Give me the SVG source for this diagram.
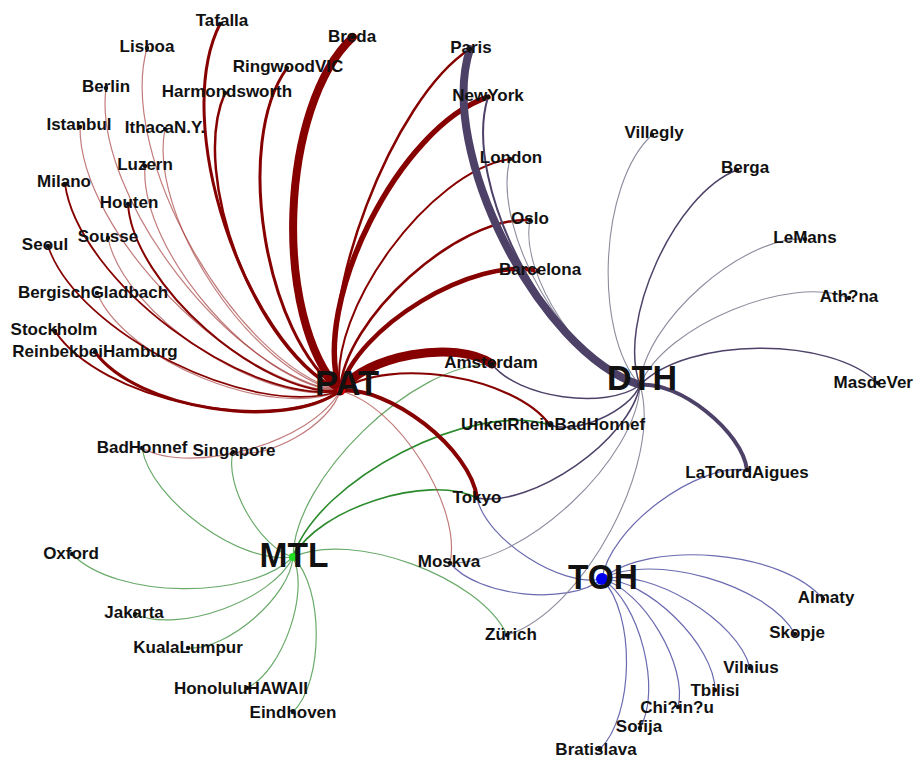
<svg xmlns="http://www.w3.org/2000/svg" width="915" height="759" viewBox="0 0 915 759">
<style>
  .e{fill:none;stroke-linecap:round}
  .pat{stroke:#860000}
  .pat-t{stroke:#a53c3c;stroke-opacity:.68;stroke-width:1.2}
  .dth{stroke:#4d4168}
  .dth-t{stroke:#8c8c9e;stroke-width:1.1}
  .mtl{stroke:#6aaa6a;stroke-width:1.2}
  .mtl-d{stroke:#2b8a2b;stroke-width:1.6}
  .toh{stroke:#6a6ab0;stroke-width:1.2}
  .lbl{font-family:"Liberation Sans",Arial,sans-serif;font-weight:bold;font-size:17px;fill:#111;text-anchor:middle}
  .hub{font-size:35px}
  .dot{fill:#111}
</style>
<rect width="915" height="759" fill="#fff"/>

<g id="connectors">
  <!-- MTL edges -->
  <g id="edges-mtl" class="e">
    <path class="mtl" d="M293,557 C241,565.4 150.4,500 142,448"/>
    <path class="mtl" d="M293,557 C260,548 224,485 233,452"/>
    <path class="mtl" d="M293,557 C248.2,600.6 115.6,598.8 72,554"/>
    <path class="mtl" d="M293,557 C272.8,600 178,634.2 135,614"/>
    <path class="mtl" d="M293,557 C290.2,596.2 227.2,650.8 188,648"/>
    <path class="mtl" d="M293,557 C310,592.4 282.4,671 247,688"/>
    <path class="mtl" d="M293,557 C324,588 324,681 293,712"/>
    <path class="mtl" d="M293,557 C294.2,478.6 413.6,362.8 492,364"/>
    <path class="mtl" d="M293,557 C351.4,529.8 479.8,576.6 507,635"/>
    <path class="mtl-d" d="M293,557 C318,479.2 472.2,400 550,425"/>
    <path class="mtl-d" d="M293,557 C318,508.4 428.4,473 477,498"/>
  </g>
  <!-- TOH edges -->
  <g id="edges-toh" class="e toh">
    <path d="M602,579 C650.2,538.8 782.8,550.8 823,599"/>
    <path d="M602,579 C651.6,551.4 767.4,584.4 795,634"/>
    <path d="M602,579 C649.4,567.2 738.2,620.6 750,668"/>
    <path d="M602,579 C646.8,578.6 714.6,645.2 715,690"/>
    <path d="M602,579 C642.8,589.4 688.4,666.2 678,707"/>
    <path d="M602,579 C639.4,601.2 662.2,690.6 640,728"/>
    <path d="M602,579 C635.6,613.4 634.4,715.4 600,749"/>
    <path d="M602,579 C560.8,587.8 485.8,539.2 477,498"/>
    <path d="M602,579 C568.4,606.2 477.2,596.6 450,563"/>
    <path d="M602,579 C609.2,528.2 696.2,462.8 747,470"/>
  </g>
  <!-- PAT edges -->
  <g id="edges-pat" class="e">
    <path class="pat-t" d="M340,391 C232.8,361 117,155.2 147,48"/>
    <path class="pat-t" d="M340,391 C232.6,377.2 92.2,195.4 106,88"/>
    <path class="pat-t" d="M340,391 C235.2,390.2 79.2,231.8 80,127"/>
    <path class="pat-t" d="M340,391 C252.6,373.6 147.6,216.4 165,129"/>
    <path class="pat-t" d="M340,391 C256,385 139,250 145,166"/>
    <path class="pat-t" d="M340,391 C263,406.8 123.8,315 108,238"/>
    <path class="pat-t" d="M340,391 C271.8,420 126,361.2 97,293"/>
    <path class="pat-t" d="M340,391 C330.8,424.6 266.6,461.2 233,452"/>
    <path class="pat-t" d="M340,391 C311.8,442 193,476.2 142,448"/>
    <path class="pat-t" d="M340,391 C396.4,403.4 462.4,506.6 450,563"/>
    <path class="pat" stroke-width="1.8" d="M340,391 C243.6,404.6 78.6,280.4 65,184"/>
    <path class="pat" stroke-width="2" d="M340,391 C260.2,396 133,283.8 128,204"/>
    <path class="pat" stroke-width="1.7" d="M340,391 C252.6,420.4 77.4,333.4 48,246"/>
    <path class="pat" stroke-width="2" d="M340,391 C271,436 100,400 55,331"/>
    <path class="pat" stroke-width="3" d="M340,391 C283.2,432.2 136.2,408.8 95,352"/>
    <path class="pat" stroke-width="3" d="M340,391 C242.6,341.6 170.6,121.4 220,24"/>
    <path class="pat" stroke-width="3" d="M340,391 C264.8,337 233,143.2 287,68"/>
    <path class="pat" stroke-width="2.5" d="M340,391 C257.4,354.4 188.4,175.6 225,93"/>
    <path class="pat" stroke-width="8" d="M340,391 C271.8,317.6 279.6,105.2 353,37"/>
    <path class="pat" stroke-width="2.5" d="M340,391 C314.7,303.1 392.7,97.9 470,49"/>
    <path class="pat" stroke-width="5.5" d="M340,391 C310.8,302.6 399.6,126.2 488,97"/>
    <path class="pat" stroke-width="2" d="M340,391 C327.6,310.6 429.6,171.4 510,159"/>
    <path class="pat" stroke-width="2.5" d="M340,391 C343.8,318.8 457.8,216.2 530,220"/>
    <path class="pat" stroke-width="4.5" d="M340,391 C355.6,327.4 474.4,255.4 538,271"/>
    <path class="pat" stroke-width="9" d="M340,391 C365,355.2 456.2,339 492,364"/>
    <path class="pat" stroke-width="2.2" d="M340,391 C388.8,355.8 514.8,376.2 550,425"/>
    <path class="pat" stroke-width="4" d="M340,391 C388.8,385 471,449.2 477,498"/>
  </g>
  <!-- DTH edges -->
  <g id="edges-dth" class="e">
    <path class="dth-t" d="M640,385 C568.8,365.8 490.8,230.2 510,159"/>
    <path class="dth-t" d="M640,385 C585,374 519,275 530,220"/>
    <path class="dth-t" d="M640,385 C592.4,332.6 599.6,182.6 652,135"/>
    <path class="dth-t" d="M640,385 C643.8,322.8 742.8,235.2 805,239"/>
    <path class="dth-t" d="M640,385 C664.4,325.8 789.8,273.6 849,298"/>
    <path class="dth-t" d="M640,385 C637.6,458.6 523.6,565.4 450,563"/>
    <path class="dth-t" d="M640,385 C663.4,461.6 583.6,611.6 507,635"/>
    <path class="dth" stroke-width="1.5" d="M640,385 C616.4,322.6 674.6,193.6 737,170"/>
    <path class="dth" stroke-width="1.5" d="M640,385 C687.2,337 830,335.8 878,383"/>
    <path class="dth" stroke-width="1.5" d="M640,385 C606.2,410.4 517.4,397.8 492,364"/>
    <path class="dth" stroke-width="1.5" d="M640,385 C630,411 576,435 550,425"/>
    <path class="dth" stroke-width="1.5" d="M640,385 C630,440.2 532.2,508 477,498"/>
    <path class="dth" stroke-width="2" d="M640,385 C552,357.8 460.8,185 488,97"/>
    <path class="dth" stroke-width="4" d="M640,385 C678.4,380.6 742.6,431.6 747,470"/>
    <path class="dth" stroke-width="8" d="M640,385 C538.8,351.8 436.8,150.2 470,49"/>
  </g>
</g>

<!-- hubs -->
<g id="node-PAT"><circle cx="341" cy="391" r="4" fill="#e00000"/><text class="lbl hub" x="347" y="395" textLength="64" lengthAdjust="spacingAndGlyphs">PAT</text></g>
<g id="node-DTH"><circle cx="640" cy="385" r="3" fill="#3a3050"/><text class="lbl hub" x="642" y="390" textLength="70" lengthAdjust="spacingAndGlyphs">DTH</text></g>
<g id="node-MTL"><circle cx="293" cy="557" r="4" fill="#22dd22"/><text class="lbl hub" x="294" y="567" textLength="69" lengthAdjust="spacingAndGlyphs">MTL</text></g>
<g id="node-TOH"><circle cx="602" cy="579" r="6" fill="#0000ee"/><text class="lbl hub" x="603" y="589" textLength="70" lengthAdjust="spacingAndGlyphs">TOH</text></g>

<!-- leaf nodes -->
<g id="node-Tafalla"><circle class="dot" cx="220" cy="24" r="2.2"/><text class="lbl" x="222" y="26">Tafalla</text></g>
<g id="node-Lisboa"><circle class="dot" cx="147" cy="48" r="2.2"/><text class="lbl" x="147" y="52">Lisboa</text></g>
<g id="node-RingwoodVIC"><circle class="dot" cx="287" cy="68" r="2.2"/><text class="lbl" x="288" y="72">RingwoodVIC</text></g>
<g id="node-Breda"><circle class="dot" cx="353" cy="37" r="2.2"/><text class="lbl" x="352" y="42">Breda</text></g>
<g id="node-Harmondsworth"><circle class="dot" cx="225" cy="93" r="2.2"/><text class="lbl" x="227" y="97">Harmondsworth</text></g>
<g id="node-Berlin"><circle class="dot" cx="106" cy="88" r="2.2"/><text class="lbl" x="106" y="92">Berlin</text></g>
<g id="node-Istanbul"><circle class="dot" cx="80" cy="127" r="2.2"/><text class="lbl" x="79" y="130">Istanbul</text></g>
<g id="node-Ithaca"><circle class="dot" cx="165" cy="129" r="2.2"/><text class="lbl" x="165" y="133">IthacaN.Y.</text></g>
<g id="node-Luzern"><circle class="dot" cx="145" cy="166" r="2.2"/><text class="lbl" x="145" y="170">Luzern</text></g>
<g id="node-Milano"><circle class="dot" cx="65" cy="184" r="2.2"/><text class="lbl" x="64" y="187">Milano</text></g>
<g id="node-Houten"><circle class="dot" cx="128" cy="204" r="2.2"/><text class="lbl" x="129" y="208">Houten</text></g>
<g id="node-Seoul"><circle class="dot" cx="48" cy="246" r="2.2"/><text class="lbl" x="45" y="250">Seoul</text></g>
<g id="node-Sousse"><circle class="dot" cx="108" cy="238" r="2.2"/><text class="lbl" x="108" y="242">Sousse</text></g>
<g id="node-BergischGladbach"><circle class="dot" cx="97" cy="293" r="2.2"/><text class="lbl" x="93" y="298">BergischGladbach</text></g>
<g id="node-Stockholm"><circle class="dot" cx="55" cy="331" r="2.2"/><text class="lbl" x="54" y="335">Stockholm</text></g>
<g id="node-Reinbek"><circle class="dot" cx="95" cy="352" r="2.2"/><text class="lbl" x="95" y="357">ReinbekbeiHamburg</text></g>
<g id="node-Paris"><circle class="dot" cx="470" cy="49" r="2.2"/><text class="lbl" x="471" y="53">Paris</text></g>
<g id="node-NewYork"><circle class="dot" cx="488" cy="97" r="2.2"/><text class="lbl" x="488" y="101">NewYork</text></g>
<g id="node-London"><circle class="dot" cx="510" cy="159" r="2.2"/><text class="lbl" x="511" y="163">London</text></g>
<g id="node-Oslo"><circle class="dot" cx="530" cy="220" r="2.2"/><text class="lbl" x="530" y="224">Oslo</text></g>
<g id="node-Barcelona"><circle class="dot" cx="538" cy="271" r="2.2"/><text class="lbl" x="540" y="275">Barcelona</text></g>
<g id="node-Amsterdam"><circle class="dot" cx="492" cy="364" r="2.2"/><text class="lbl" x="491" y="368">Amsterdam</text></g>
<g id="node-UnkelRheinBadHonnef"><circle class="dot" cx="550" cy="425" r="2.2"/><text class="lbl" x="553" y="430">UnkelRheinBadHonnef</text></g>
<g id="node-Tokyo"><circle class="dot" cx="477" cy="498" r="2.2"/><text class="lbl" x="477" y="503">Tokyo</text></g>
<g id="node-Singapore"><circle class="dot" cx="233" cy="452" r="2.2"/><text class="lbl" x="234" y="456">Singapore</text></g>
<g id="node-BadHonnef"><circle class="dot" cx="142" cy="448" r="2.2"/><text class="lbl" x="142" y="453">BadHonnef</text></g>
<g id="node-Moskva"><circle class="dot" cx="450" cy="563" r="2.2"/><text class="lbl" x="449" y="567">Moskva</text></g>
<g id="node-Villegly"><circle class="dot" cx="652" cy="135" r="2.2"/><text class="lbl" x="654" y="138">Villegly</text></g>
<g id="node-Berga"><circle class="dot" cx="737" cy="170" r="2.2"/><text class="lbl" x="745" y="173">Berga</text></g>
<g id="node-LeMans"><circle class="dot" cx="805" cy="239" r="2.2"/><text class="lbl" x="805" y="243">LeMans</text></g>
<g id="node-Athena"><circle class="dot" cx="849" cy="298" r="2.2"/><text class="lbl" x="849" y="302">Ath?na</text></g>
<g id="node-MasdeVer"><circle class="dot" cx="878" cy="383" r="2.2"/><text class="lbl" x="913" y="388" style="text-anchor:end">MasdeVer</text></g>
<g id="node-LaTourdAigues"><circle class="dot" cx="747" cy="470" r="2.2"/><text class="lbl" x="747" y="478">LaTourdAigues</text></g>
<g id="node-Oxford"><circle class="dot" cx="72" cy="554" r="2.2"/><text class="lbl" x="71" y="559">Oxford</text></g>
<g id="node-Jakarta"><circle class="dot" cx="135" cy="614" r="2.2"/><text class="lbl" x="134" y="618">Jakarta</text></g>
<g id="node-KualaLumpur"><circle class="dot" cx="188" cy="648" r="2.2"/><text class="lbl" x="188" y="653">KualaLumpur</text></g>
<g id="node-Honolulu"><circle class="dot" cx="247" cy="688" r="2.2"/><text class="lbl" x="241" y="694">HonoluluHAWAII</text></g>
<g id="node-Eindhoven"><circle class="dot" cx="293" cy="712" r="2.2"/><text class="lbl" x="293" y="718">Eindhoven</text></g>
<g id="node-Zurich"><circle class="dot" cx="507" cy="635" r="2.2"/><text class="lbl" x="511" y="640">Zürich</text></g>
<g id="node-Almaty"><circle class="dot" cx="823" cy="599" r="2.2"/><text class="lbl" x="826" y="603">Almaty</text></g>
<g id="node-Skopje"><circle class="dot" cx="795" cy="634" r="2.2"/><text class="lbl" x="797" y="638">Skopje</text></g>
<g id="node-Vilnius"><circle class="dot" cx="750" cy="668" r="2.2"/><text class="lbl" x="751" y="673">Vilnius</text></g>
<g id="node-Tbilisi"><circle class="dot" cx="715" cy="690" r="2.2"/><text class="lbl" x="715" y="696">Tbilisi</text></g>
<g id="node-Chisinau"><circle class="dot" cx="678" cy="707" r="2.2"/><text class="lbl" x="677" y="713">Chi?in?u</text></g>
<g id="node-Sofija"><circle class="dot" cx="640" cy="728" r="2.2"/><text class="lbl" x="639" y="732">Sofija</text></g>
<g id="node-Bratislava"><circle class="dot" cx="600" cy="749" r="2.2"/><text class="lbl" x="596" y="755">Bratislava</text></g>
</svg>
